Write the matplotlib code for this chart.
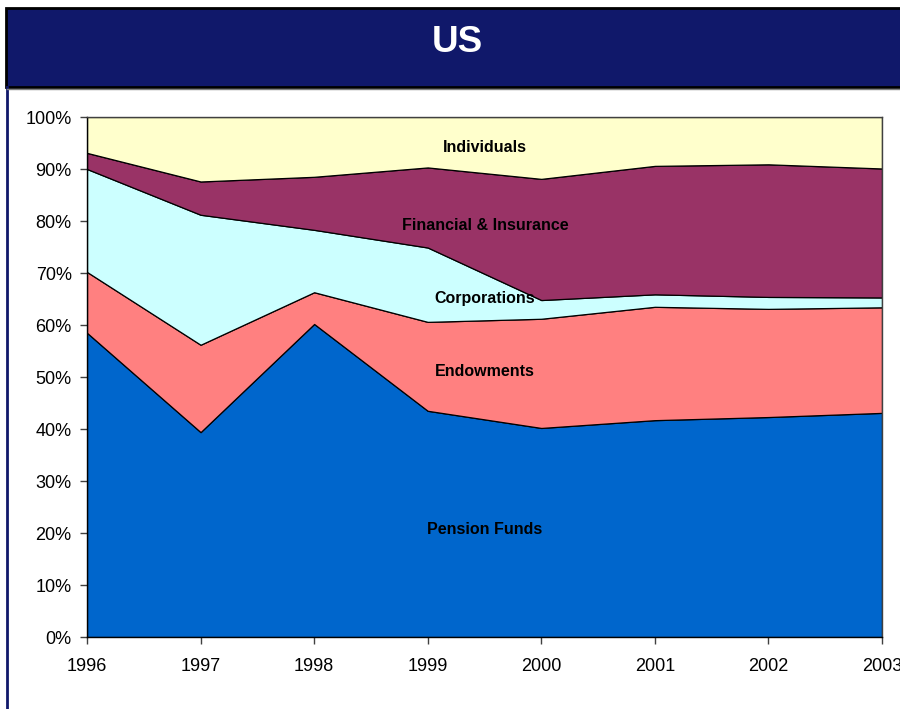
import matplotlib
matplotlib.use("Agg")
import matplotlib.pyplot as plt
from matplotlib.patches import Rectangle
import numpy as np

plt.rcParams['font.family'] = ['Liberation Sans', 'DejaVu Sans']

years = [1996, 1997, 1998, 1999, 2000, 2001, 2002, 2003]
series_names = ["Pension Funds", "Endowments", "Corporations", "Financial & Insurance", "Individuals"]
# cumulative tops (%)
pension_top = [58.5, 39.4, 60.2, 43.5, 40.2, 41.7, 42.3, 43.1]
endow_top = [70.2, 56.2, 66.3, 60.6, 61.2, 63.5, 63.1, 63.4]
corp_top = [90.0, 81.2, 78.3, 74.9, 64.8, 65.9, 65.4, 65.3]
fin_top = [93.1, 87.6, 88.5, 90.3, 88.1, 90.6, 90.9, 90.1]
indiv_top = [100, 100, 100, 100, 100, 100, 100, 100]
colors = ["#0066CC", "#FF8080", "#CCFFFF", "#993366", "#FFFFCC"]
y_ticks = [0, 10, 20, 30, 40, 50, 60, 70, 80, 90, 100]

tops = [pension_top, endow_top, corp_top, fin_top, indiv_top]
shares = []
prev = np.zeros(len(years))
for t in tops:
    t = np.array(t, dtype=float)
    shares.append(t - prev)
    prev = t

fig = plt.figure(figsize=(9, 7.09), dpi=100)
W, H = 900, 709

# Title bar
fig.patches.append(Rectangle((6 / W, 1 - 87 / H), 1.0, 79 / H, transform=fig.transFigure,
                             facecolor="#10186A", edgecolor="black", linewidth=2.0, zorder=0))
fig.text(457 / W, 1 - 42 / H, "US", color="white", fontsize=26.5, fontweight="bold",
         ha="center", va="center")
# left border line
fig.add_artist(plt.Line2D([7 / W, 7 / W], [0, 1 - 87 / H], transform=fig.transFigure,
                          color="#10186A", linewidth=2.0))
fig.add_artist(plt.Line2D([7 / W, 1], [1 - 88.5 / H, 1 - 88.5 / H], transform=fig.transFigure,
                          color="#808080", linewidth=1.0))

ax = fig.add_axes([87 / W, (H - 637) / H, (882 - 87) / W, (637 - 117) / H])
ax.stackplot(years, *shares, colors=colors, edgecolor="black", linewidth=0.9)

ax.set_xlim(years[0], years[-1])
ax.set_ylim(0, 100)
ax.set_xticks(years)
ax.set_xticklabels([str(y) for y in years], fontsize=13)
ax.set_yticks(y_ticks)
ax.set_yticklabels([f"{v}%" for v in y_ticks], fontsize=13)
ax.tick_params(axis="both", direction="out", length=5, width=1, color="#404040", pad=6)
ax.tick_params(axis="x", pad=10)
for s in ["left", "bottom"]:
    ax.spines[s].set_color("black")
    ax.spines[s].set_linewidth(1.0)
for s in ["top", "right"]:
    ax.spines[s].set_color("#404040")
    ax.spines[s].set_linewidth(1.0)

label_x = 485
label_data_x = years[0] + (label_x - 87) / (882 - 87) * (years[-1] - years[0])
label_ys = [(637 - 530) / 5.2, (637 - 371) / 5.2, (637 - 298) / 5.2, (637 - 225) / 5.2, (637 - 147) / 5.2]
for name, ly in zip(series_names, label_ys):
    ax.text(label_data_x, ly, name, fontsize=11.5, fontweight="bold", ha="center", va="center", color="black")

fig.savefig("out.png", dpi=100)
